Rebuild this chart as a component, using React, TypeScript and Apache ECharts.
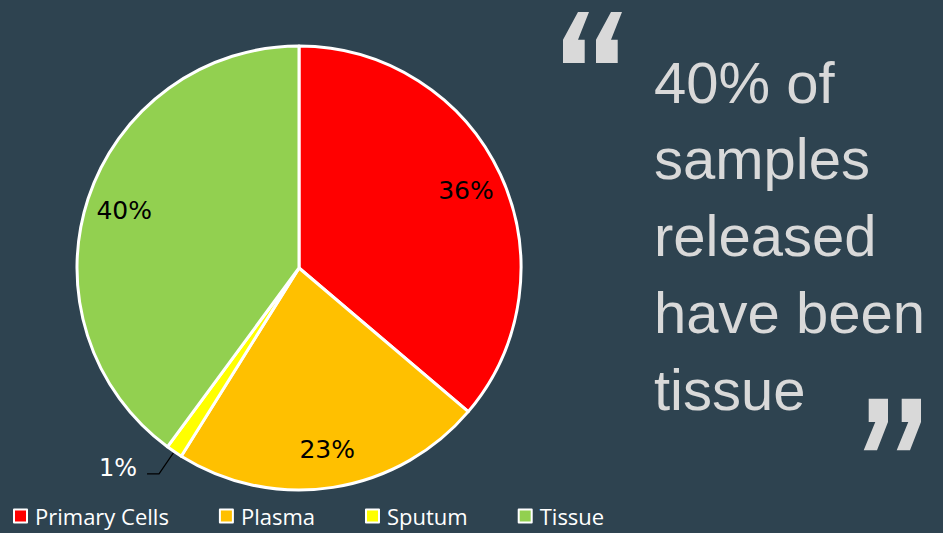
import React, { useEffect, useRef } from "react";
import * as echarts from "echarts";

const categories = ["Primary Cells", "Plasma", "Sputum", "Tissue"];
const values = [36.2, 22.7, 1.2, 39.9];
const colors = ["#FF0000", "#FFC000", "#FFFF00", "#92D050"];
const quoteLines = ["40% of", "samples", "released", "have been", "tissue"];

const BG = "#2E4350";
const QUOTE = "#D9D9D9";

const openMark = [
  [578, 12], [589, 12], [578, 39.7], [584.7, 39.7], [584.7, 63], [563, 63], [563, 39.7],
];
const closeMark = [
  [868.7, 398.7], [888, 398.7], [888, 422], [877, 450.3], [863.7, 450.3], [875.3, 422], [868.7, 422],
];

function shift(pts: number[][], dx: number) {
  return pts.map(([x, y]) => [x + dx, y]);
}

export default function App() {
  const ref = useRef<HTMLDivElement>(null);
  useEffect(() => {
    if (!ref.current) return;
    const chart = echarts.init(ref.current, undefined, { renderer: "svg" });
    const fmt = (p: any) => Math.round(p.percent) + "%";
    const mainData = categories.map((name, i) => {
      const isSmall = name === "Sputum";
      return {
        name,
        value: values[i],
        itemStyle: { color: colors[i] },
        label: isSmall
          ? {
              show: true,
              position: "outside",
              color: "#FFFFFF",
              fontSize: 24,
              fontFamily: "DejaVu Sans",
              padding: [0, 5, 0, 0],
              formatter: fmt,
            }
          : { show: false },
        labelLine: isSmall
          ? { show: true, length: 27, length2: 12, lineStyle: { color: "#000000", width: 1.2 } }
          : { show: false },
      };
    });
    const overlayData = categories.map((name, i) => ({
      name,
      value: values[i],
      itemStyle: { color: "transparent", borderWidth: 0 },
      label: { show: name !== "Sputum" },
    }));
    const graphics: any[] = [];
    [0, 33].forEach((dx) => {
      graphics.push({ type: "polygon", shape: { points: shift(openMark, dx) }, style: { fill: QUOTE }, silent: true });
      graphics.push({ type: "polygon", shape: { points: shift(closeMark, dx) }, style: { fill: QUOTE }, silent: true });
    });
    quoteLines.forEach((line, i) => {
      graphics.push({
        type: "text",
        x: 654,
        y: 82 + i * 76.8,
        silent: true,
        style: {
          text: line,
          fill: QUOTE,
          fontSize: 58,
          fontFamily: "Liberation Sans, Arial, sans-serif",
          verticalAlign: "middle",
          align: "left",
        },
      });
    });
    chart.setOption({
      animation: false,
      backgroundColor: BG,
      legend: {
        data: categories,
        left: 8,
        top: 499,
        orient: "horizontal",
        itemWidth: 13,
        itemHeight: 13,
        itemGap: 50,
        icon: "rect",
        itemStyle: { borderColor: "#FFFFFF", borderWidth: 2 },
        textStyle: {
          color: "#FFFFFF",
          fontSize: 22,
          lineHeight: 24,
          fontFamily: "Open Sans, Noto Sans, sans-serif",
          padding: [0, 0, 0, 3],
        },
      },
      graphic: graphics,
      series: [
        {
          type: "pie",
          center: [299, 268],
          radius: 222,
          startAngle: 90,
          clockwise: true,
          avoidLabelOverlap: false,
          itemStyle: { borderColor: "#FFFFFF", borderWidth: 3 },
          emphasis: { disabled: true },
          labelLayout: (p: any) => (p.dataIndex === 2 ? { dy: -6 } : {}),
          data: mainData,
        },
        {
          type: "pie",
          center: [299, 268],
          radius: [140, 222],
          startAngle: 90,
          clockwise: true,
          silent: true,
          avoidLabelOverlap: false,
          emphasis: { disabled: true },
          label: {
            position: "inside",
            color: "#000000",
            fontSize: 25,
            fontFamily: "DejaVu Sans",
            formatter: fmt,
          },
          labelLine: { show: false },
          data: overlayData,
        },
      ],
    });
    return () => chart.dispose();
  }, []);
  return (
    <div
      ref={ref}
      style={{ position: "fixed", left: 0, top: 0, width: 943, height: 533 }}
    />
  );
}
